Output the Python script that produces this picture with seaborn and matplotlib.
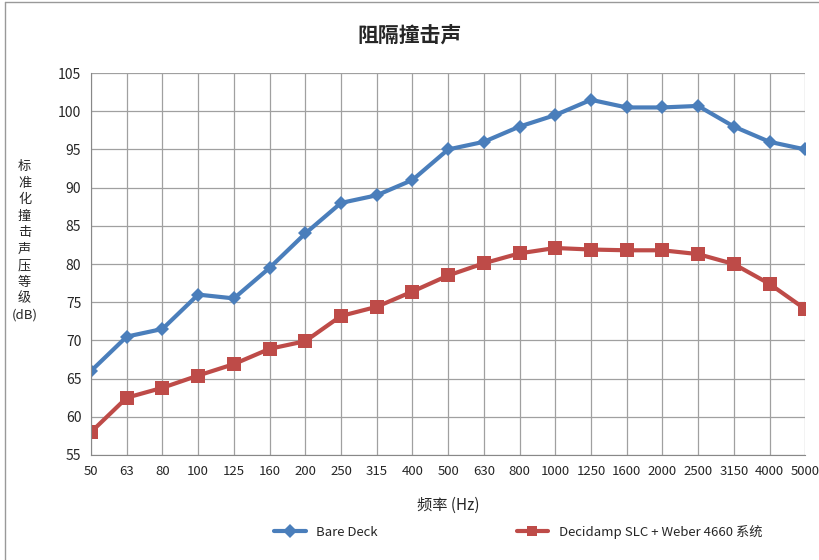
import pandas as pd
import matplotlib.pyplot as plt
import seaborn as sns
from matplotlib.lines import Line2D

# 1/3 倍频程中心频率
freqs = ["50", "63", "80", "100", "125", "160", "200", "250", "315", "400", "500",
         "630", "800", "1000", "1250", "1600", "2000", "2500", "3150", "4000", "5000"]
bare_deck = [66, 70.5, 71.5, 76, 75.5, 79.5, 84, 88, 89, 91, 95,
             96, 98, 99.5, 101.5, 100.5, 100.5, 100.7, 98, 96, 95]
decidamp = [58, 62.5, 63.8, 65.4, 66.9, 68.9, 69.9, 73.2, 74.4, 76.4, 78.5,
            80.1, 81.4, 82.1, 81.9, 81.8, 81.8, 81.3, 80, 77.4, 74.1]
series_names = ["Bare Deck", "Decidamp SLC + Weber 4660 系统"]
colors = ["#4A7EBB", "#BE4B48"]

df = pd.DataFrame({
    "freq": freqs * 2,
    "level": bare_deck + decidamp,
    "series": [series_names[0]] * len(freqs) + [series_names[1]] * len(freqs),
})
df["freq"] = pd.Categorical(df["freq"], categories=freqs, ordered=True)

sns.set_style("white")
plt.rcParams["font.family"] = ["Noto Sans CJK SC", "DejaVu Sans"]

fig = plt.figure(figsize=(8.2, 5.6), dpi=100)
ax = fig.add_axes([0.111, 0.1875, 0.871, 0.682])

sns.lineplot(data=df, x="freq", y="level", hue="series", style="series",
             palette=colors, markers=["D", "s"], dashes=False,
             linewidth=3, markersize=7, markeredgewidth=0, ax=ax, legend=True)
# square marker a bit larger than the diamond
ax.lines[1].set_markersize(9.5)

ax.set_xlim(0, len(freqs) - 1)
ax.set_ylim(55, 105)
ax.set_yticks(range(55, 106, 5))
ax.grid(True, color="#A0A0A0", linewidth=0.9)
ax.set_axisbelow(True)
for s in ["top", "right"]:
    ax.spines[s].set_visible(False)
for s in ["left", "bottom"]:
    ax.spines[s].set_color("#888888")
ax.tick_params(axis="both", direction="out", length=4, color="#888888",
               labelsize=10, pad=3)
ax.tick_params(axis="x", labelsize=9.5)

ax.set_xlabel("频率 (Hz)", fontsize=11, labelpad=14)
ax.set_ylabel("")
fig.text(0.03, 0.57, "标\n准\n化\n撞\n击\n声\n压\n等\n级\n(dB)", ha="center", va="center",
         fontsize=9.5, linespacing=1.35)
fig.suptitle("阻隔撞击声", y=0.955, fontsize=15, fontweight="bold")

handles, labels = ax.get_legend_handles_labels()
ax.get_legend().remove()
fig.legend(handles, labels, loc="center", ncol=2, bbox_to_anchor=(0.632, 0.05),
           frameon=False, fontsize=9.5, columnspacing=10.5, handlelength=2.4)

# chart area border (left and top edges only visible)
fig.add_artist(Line2D([0.006, 0.006], [0, 0.996], transform=fig.transFigure,
                      color="#999999", linewidth=1))
fig.add_artist(Line2D([0.006, 1], [0.996, 0.996], transform=fig.transFigure,
                      color="#999999", linewidth=1))

fig.savefig("out.png", dpi=100)
